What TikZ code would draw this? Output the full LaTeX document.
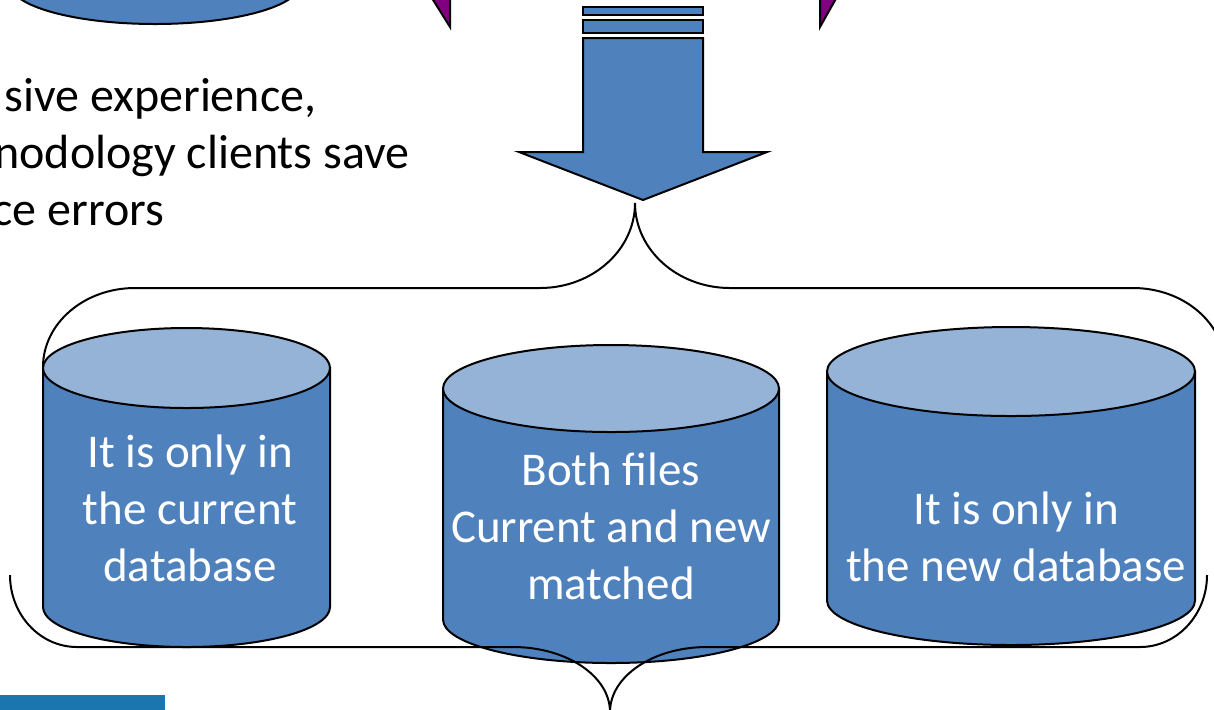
\documentclass[tikz,border=0pt]{standalone}
\usepackage{fontspec}
\setmainfont{Carlito}

\definecolor{dbblue}{RGB}{79,129,189}
\definecolor{dbtop}{RGB}{149,179,215}
\definecolor{tippurple}{RGB}{128,0,128}
\definecolor{barblue}{RGB}{27,117,174}

\tikzset{
  db_body/.style={fill=dbblue,draw=black,line width=1pt},
  db_top/.style={fill=dbtop,draw=black,line width=1pt},
  db_label/.style={text=white,align=center,font=\fontsize{23.5}{28.5}\selectfont},
  brace_line/.style={draw=black,line width=1pt},
}

\begin{document}
\begin{tikzpicture}[
  x=0.5pt, y=-0.5pt,
  every node/.style={inner sep=0pt},
  body text/.style={font=\fontsize{24}{28.5}\selectfont,anchor=base west},
  ]
  \useasboundingbox (0,0) rectangle (1214,709);
  \clip (0,0) rectangle (1214,709);

  % lower end of the database above the text
  \draw[db_body] (10,-60) -- (10,-16)
       arc[start angle=180,end angle=360,x radius=72.5pt,y radius=20pt] -- (300,-60);

  % purple tips
  \draw[fill=tippurple,line width=1pt] (430,-5) -- (450,27) -- (450,-5);
  \draw[fill=tippurple,line width=1pt] (820,-5) -- (820,27) -- (838,-5);

  % down arrow with its two stripes
  \draw[db_body] (583,7) rectangle (703,15);
  \draw[db_body] (583,20) rectangle (703,33);
  \draw[db_body] (583,38) -- (583,152) -- (519,152) -- (643,200)
       -- (767,152) -- (703,152) -- (703,38) -- cycle;

  % the three databases
  \foreach \cx/\ty/\by/\rx/\ry in {186.5/368/607/143.5/40, 611/388.5/619.5/168/43.5, 1011/371.5/600.5/184/44.5}{
    \draw[db_body] (\cx-\rx,\ty) -- (\cx-\rx,\by)
         arc[start angle=180,end angle=360,x radius=\rx*0.5pt,y radius=\ry*0.5pt]
         -- (\cx+\rx,\ty) -- cycle;
    \draw[db_top] (\cx,\ty) ellipse[x radius=\rx*0.5pt,y radius=\ry*0.5pt];
  }

  \node[db_label] (cur_txt) at (190,508) {It is only in\\the current\\database};
  \node[db_label] (both_txt) at (611,526) {Both files\\Current and new\\matched};
  \node[db_label] (new_txt) at (1016,537) {It is only in\\the new database};

  \node[body text] (txt_a) at (4,111) {sive experience,};
  \node[body text] (txt_b) at (-6,168) {nodology clients save};
  \node[body text] (txt_c) at (-8,225) {ce errors};

  % upper brace
  \draw[brace_line] (43,367)
       arc[start angle=180,end angle=90,x radius=46pt,y radius=39.5pt] -- (540,288)
       arc[start angle=270,end angle=360,x radius=47.5pt,y radius=42.5pt] coordinate (top_tip)
       arc[start angle=180,end angle=270,x radius=47.5pt,y radius=42.5pt] -- (1133,288)
       arc[start angle=90,end angle=0,x radius=46pt,y radius=39.5pt];

  % lower brace
  \draw[brace_line] (10,575)
       arc[start angle=180,end angle=270,x radius=33.5pt,y radius=36pt] -- (513,647)
       arc[start angle=90,end angle=0,x radius=48.5pt,y radius=32.5pt] coordinate (low_tip)
       arc[start angle=180,end angle=90,x radius=48.5pt,y radius=32.5pt] -- (1140,647)
       arc[start angle=270,end angle=360,x radius=33.5pt,y radius=36pt];

  \fill[barblue] (0,695) rectangle (165,715);
\end{tikzpicture}
\end{document}
